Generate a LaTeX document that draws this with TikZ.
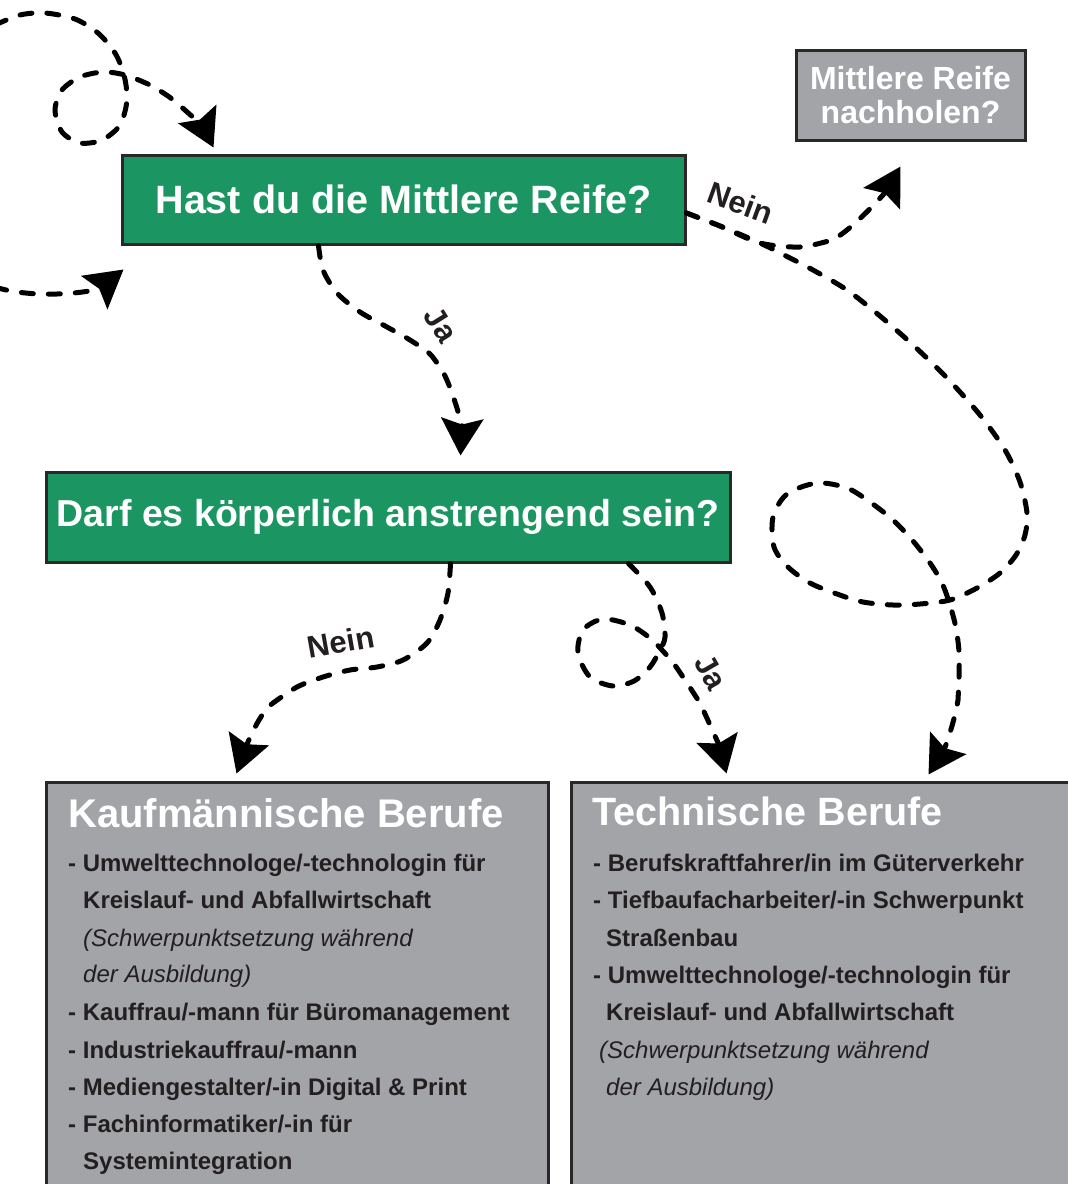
\documentclass[tikz,border=0pt]{standalone}
\usepackage{fontspec}
\setmainfont{Liberation Sans}
\usetikzlibrary{arrows.meta,calc}
\definecolor{boxgreen}{RGB}{27,150,99}
\definecolor{boxgray}{RGB}{163,164,168}
\definecolor{edgecol}{RGB}{40,40,40}
\definecolor{ink}{RGB}{35,31,32}
\tikzset{
  greenbox/.style={draw=edgecol, line width=3pt, fill=boxgreen, text=white, inner sep=0pt},
  graybox/.style={draw=edgecol, line width=3pt, fill=boxgray, inner sep=0pt},
  flow/.style={draw=black, line width=5pt, dash pattern=on 12pt off 15pt, line cap=round,
    -{Stealth[length=37pt,width=42pt,inset=6pt]}},
  lbl/.style={text=ink, inner sep=0pt, font=\bfseries\fontsize{31}{36}\selectfont},
  headtxt/.style={anchor=base west, inner sep=0pt, text=white, font=\bfseries\fontsize{40}{48}\selectfont},
  itm/.style={anchor=base west, inner sep=0pt, text=ink, font=\bfseries\fontsize{24}{29}\selectfont},
  itmit/.style={anchor=base west, inner sep=0pt, text=ink, font=\itshape\fontsize{24}{29}\selectfont},
}
\begin{document}
\begin{tikzpicture}[x=1pt, y=-1pt]
\useasboundingbox (0,0) rectangle (1068,1184);
% boxes
\node[greenbox, minimum width=563pt, minimum height=89pt, font=\bfseries\fontsize{39.5}{47}\selectfont] (b1) at (403.5,199.5) {Hast du die Mittlere Reife?};
\node[greenbox, minimum width=684pt, minimum height=90pt, font=\bfseries\fontsize{37.5}{45}\selectfont] (b2) at (388,517) {Darf es körperlich anstrengend sein?};
\node[graybox, minimum width=229pt, minimum height=90pt, text=white, align=center, font=\bfseries\fontsize{32}{34}\selectfont] (b3) at (910.5,95) {Mittlere Reife\\nachholen?};
\node[graybox, minimum width=502pt, minimum height=413pt] (b4) at (297,988.5) {};
\node[graybox, minimum width=504pt, minimum height=413pt] (b5) at (823,988.5) {};
% box 4 text
\node[headtxt] (k0) at (68,827) {Kaufmännische Berufe};
\node[itm] (k1) at (68,871) {- Umwelttechnologe/-technologin für};
\node[itm] (k2) at (83,908) {Kreislauf- und Abfallwirtschaft};
\node[itmit] (k3) at (83,946) {(Schwerpunktsetzung während};
\node[itmit] (k4) at (83,982) {der Ausbildung)};
\node[itm] (k5) at (68,1020) {- Kauffrau/-mann für Büromanagement};
\node[itm] (k6) at (68,1058) {- Industriekauffrau/-mann};
\node[itm] (k7) at (68,1095) {- Mediengestalter/-in Digital \& Print};
\node[itm] (k8) at (68,1132) {- Fachinformatiker/-in für};
\node[itm] (k9) at (83,1169) {Systemintegration};
% box 5 text
\node[headtxt, font=\bfseries\fontsize{39.5}{47}\selectfont] (t0) at (592,825) {Technische Berufe};
\node[itm] (t1) at (593,871) {- Berufskraftfahrer/in im Güterverkehr};
\node[itm] (t2) at (593,908) {- Tiefbaufacharbeiter/-in Schwerpunkt};
\node[itm] (t3) at (606,946) {Straßenbau};
\node[itm] (t4) at (593,983) {- Umwelttechnologe/-technologin für};
\node[itm] (t5) at (606,1020) {Kreislauf- und Abfallwirtschaft};
\node[itmit] (t6) at (599,1058) {(Schwerpunktsetzung während};
\node[itmit] (t7) at (606,1095) {der Ausbildung)};
% connector ends
\coordinate (s1) at (-5,25);
\coordinate (s2) at (-5,287);
\coordinate (e1) at ($(b1.north west)+(93,-6)$);
\coordinate (e2) at ($(b1.south west)+(3,24)$);
\coordinate (s3) at ($(b1.east)+(0,13.5)$);
\coordinate (e3) at ($(b3.south west)+(106,25)$);
\coordinate (e4) at ($(b5.north west)+(359,-6)$);
\coordinate (s5) at ($(b1.south west)+(198,0)$);
\coordinate (e5) at ($(b2.north west)+(416,-15)$);
\coordinate (s6) at ($(b2.south west)+(406,0)$);
\coordinate (e6) at ($(b4.north west)+(192,-7)$);
\coordinate (s7) at ($(b2.south west)+(584,0)$);
\coordinate (e7) at ($(b5.north west)+(157,-7)$);
% connectors
\draw[flow] plot[smooth] coordinates {(s1) (20,15) (45,13) (75,19) (98,33) (115,53) (124,75) (127,100) (120,125) (102,140) (80,143) (62,132) (55,110) (62,90) (80,77) (103,72) (125,75) (150,85) (168,96)}
  .. controls (182,106) and (205,130) .. (e1);
\draw[flow] (s2) .. controls (35,300) and (95,292) .. (e2);
\draw[flow] plot[smooth] coordinates {(s3) (720,226) (760,243) (800,247) (832,240)}
  .. controls (850,232) and (885,193) .. (e3);
\draw[flow] plot[smooth] coordinates {(s3) (720,226) (760,243) (790,258) (813,270) (847,290) (880,316) (913,345) (947,378) (980,415) (1005,450) (1020,482) (1027,513) (1025,535) (1016,555) (1000,573) (977,588) (950,600) (920,604) (893,605) (863,602) (837,594) (810,583) (788,567) (774,547) (773,517) (787,494) (817,483) (847,488) (870,502) (893,520) (913,541) (930,563) (942,583) (950,605) (956,628) (959,652) (959,677) (958,700)}
  .. controls (955,720) and (945,748) .. (e4);
\draw[flow] plot[smooth] coordinates {(s5) (323,270) (337,293) (360,312) (387,327) (410,340) (430,354) (443,372)}
  .. controls (452,388) and (462,425) .. (e5);
\draw[flow] plot[smooth] coordinates {(s6) (448,593) (440,620) (427,643) (403,660) (377,667) (350,670) (323,677) (297,687) (273,703)}
  .. controls (258,713) and (243,755) .. (e6);
\draw[flow] plot[smooth] coordinates {(s7) (650,587) (662,613) (665,637) (660,650) (650,667) (634,681) (613,686) (590,677) (578,653) (583,630) (603,619) (630,625) (650,638) (662,650) (674,664) (687,683) (700,703)}
  .. controls (707,718) and (719,745) .. (e7);
% labels
\node[lbl, rotate=-20] (n1) at (741,203) {Nein};
\node[lbl, rotate=-58] (j1) at (441,325) {Ja};
\node[lbl, rotate=10] (n2) at (341,642) {Nein};
\node[lbl, rotate=-60] (j2) at (711,672) {Ja};
\end{tikzpicture}
\end{document}
